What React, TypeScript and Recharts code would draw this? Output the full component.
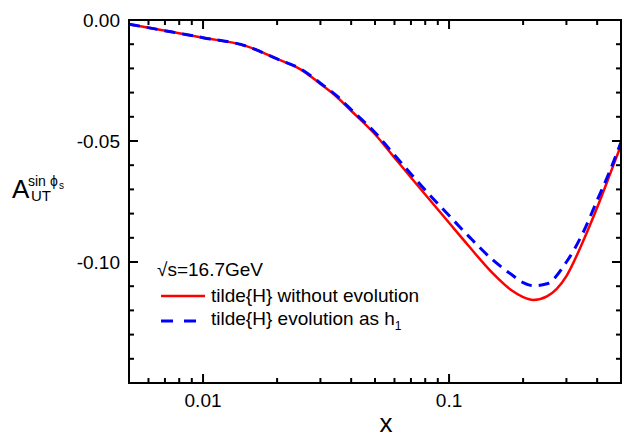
import { LineChart, Line, XAxis, YAxis, Legend } from "recharts"

const xValues = [
  0.005, 0.0075, 0.01, 0.015, 0.02, 0.025, 0.03, 0.035, 0.04, 0.05, 0.06, 0.07,
  0.08, 0.1, 0.12, 0.15, 0.18, 0.2, 0.22, 0.25, 0.3, 0.35, 0.4, 0.45, 0.5,
]
const withoutEvolution = [
  -0.0017, -0.005, -0.0073, -0.0108, -0.0161, -0.0205, -0.0264, -0.0318, -0.0375,
  -0.0472, -0.0569, -0.0651, -0.0721, -0.0838, -0.0933, -0.1045, -0.1118, -0.1145,
  -0.1157, -0.1142, -0.1058, -0.0916, -0.0775, -0.064, -0.0517,
]
const evolutionH1 = [
  -0.0017, -0.005, -0.0073, -0.0108, -0.0161, -0.0203, -0.0261, -0.0314, -0.037,
  -0.0465, -0.0558, -0.0636, -0.0703, -0.0808, -0.0893, -0.099, -0.1053, -0.1085,
  -0.1098, -0.109, -0.1, -0.088, -0.0745, -0.0625, -0.0505,
]

const xTicks = [
  0.006, 0.007, 0.008, 0.009, 0.01, 0.02, 0.03, 0.04, 0.05, 0.06, 0.07, 0.08,
  0.09, 0.1, 0.2, 0.3, 0.4,
]
const xLabels = [0.01, 0.1]
const yTicks = [
  0, -0.01, -0.02, -0.03, -0.04, -0.05, -0.06, -0.07, -0.08, -0.09, -0.1, -0.11,
  -0.12, -0.13, -0.14, -0.15,
]
const yLabels = [0, -0.05, -0.1]
const yMajor = [0, -0.05, -0.1, -0.15]

const data = xValues.map((x, i) => ({
  x,
  without: withoutEvolution[i],
  evol: evolutionH1[i],
}))

const W = 624
const H = 437
const MARGIN = { top: 20, right: 3, bottom: 0, left: 0 }
const Y_AXIS_W = 129
const X_AXIS_H = 54
const PLOT_LEFT = MARGIN.left + Y_AXIS_W
const PLOT_TOP = MARGIN.top
const PLOT_RIGHT = W - MARGIN.right
const PLOT_BOTTOM = H - MARGIN.bottom - X_AXIS_H

const FONT = "'Liberation Sans', Arial, sans-serif"
const isIn = (v: number, list: number[]) =>
  list.some((l) => Math.abs(l - v) < 1e-9)

// bottom tick + mirrored tick on the top frame edge
function XTick({ x, y, payload }: any) {
  const major = isIn(payload.value, xLabels)
  const len = major ? 9 : 5
  return (
    <g>
      <line x1={x} y1={y} x2={x} y2={y - len} stroke="#000" strokeWidth={2} />
      <line x1={x} y1={PLOT_TOP} x2={x} y2={PLOT_TOP + len} stroke="#000" strokeWidth={2} />
      {major && (
        <text x={x} y={y + 23.5} textAnchor="middle" fontSize={19} fontFamily={FONT} fill="#000">
          {payload.value === 0.01 ? "0.01" : "0.1"}
        </text>
      )}
    </g>
  )
}

// left tick + mirrored tick on the right frame edge
function YTick({ x, y, payload }: any) {
  const len = isIn(payload.value, yMajor) ? 9 : 5
  return (
    <g>
      <line x1={x} y1={y} x2={x + len} y2={y} stroke="#000" strokeWidth={2} />
      <line x1={PLOT_RIGHT} y1={y} x2={PLOT_RIGHT - len} y2={y} stroke="#000" strokeWidth={2} />
      {isIn(payload.value, yLabels) && (
        <text x={x - 9} y={y + 6.7} textAnchor="end" fontSize={19} fontFamily={FONT} fill="#000">
          {payload.value === 0 ? "0.00" : payload.value.toFixed(2)}
        </text>
      )}
    </g>
  )
}

function LegendBox() {
  const row = { display: "flex", alignItems: "center", height: 25 }
  return (
    <div style={{ fontFamily: FONT, fontSize: 19, color: "#000", lineHeight: 1 }}>
      <div style={{ ...row, height: 28, paddingLeft: 2 }}>√s=16.7GeV</div>
      <div style={row}>
        <svg width={50} height={10}>
          <line x1={6} y1={5} x2={50} y2={5} stroke="#ff0000" strokeWidth={2.5} />
        </svg>
        <span style={{ marginLeft: 6 }}>tilde{"{H}"} without evolution</span>
      </div>
      <div style={row}>
        <svg width={50} height={10}>
          <line x1={6} y1={5} x2={43} y2={5} stroke="#0000ff" strokeWidth={3} strokeDasharray="12 11" />
        </svg>
        <span style={{ marginLeft: 6 }}>
          tilde{"{H}"} evolution as h<sub style={{ fontSize: 12 }}>1</sub>
        </span>
      </div>
    </div>
  )
}

export default function App() {
  return (
    <div style={{ position: "absolute", left: 0, top: 0, background: "#fff" }}>
      <LineChart width={W} height={H} data={data} margin={MARGIN}>
        <XAxis
          dataKey="x"
          type="number"
          scale="log"
          domain={[0.005, 0.5]}
          ticks={xTicks}
          interval={0}
          allowDataOverflow
          height={X_AXIS_H}
          tickSize={0}
          tickMargin={0}
          tickLine={false}
          axisLine={{ stroke: "#000", strokeWidth: 2 }}
          tick={(p: any) => <XTick {...p} />}
          label={{
            content: () => (
              <text x={386} y={PLOT_BOTTOM + 49} textAnchor="middle" fontSize={26} fontFamily={FONT} fill="#000">
                x
              </text>
            ),
          }}
        />
        <YAxis
          type="number"
          domain={[-0.15, 0]}
          ticks={yTicks}
          interval={0}
          allowDataOverflow
          width={Y_AXIS_W}
          tickSize={0}
          tickMargin={0}
          tickLine={false}
          axisLine={{ stroke: "#000", strokeWidth: 2 }}
          tick={(p: any) => <YTick {...p} />}
          label={{
            content: () => (
              <g fontFamily={FONT} fill="#000">
                {/* plot frame */}
                <rect
                  x={PLOT_LEFT}
                  y={PLOT_TOP}
                  width={PLOT_RIGHT - PLOT_LEFT}
                  height={PLOT_BOTTOM - PLOT_TOP}
                  fill="none"
                  stroke="#000"
                  strokeWidth={2}
                />
                <text x={12} y={198} fontSize={26}>A</text>
                <text x={28} y={186} fontSize={14}>sin</text>
                <text x={50} y={186} fontSize={14}>ϕ</text>
                <text x={59} y={189} fontSize={10}>s</text>
                <text x={31} y={201} fontSize={15}>UT</text>
              </g>
            ),
          }}
        />
        <Legend
          layout="horizontal"
          verticalAlign="middle"
          align="center"
          content={() => <LegendBox />}
          wrapperStyle={{ left: 155, top: 255, width: "auto", height: "auto" }}
        />
        <Line
          type="monotone"
          dataKey="without"
          stroke="#ff0000"
          strokeWidth={2.5}
          dot={false}
          isAnimationActive={false}
        />
        <Line
          type="monotone"
          dataKey="evol"
          stroke="#0000ff"
          strokeWidth={3}
          strokeDasharray="11 7"
          dot={false}
          isAnimationActive={false}
        />
      </LineChart>
    </div>
  )
}
